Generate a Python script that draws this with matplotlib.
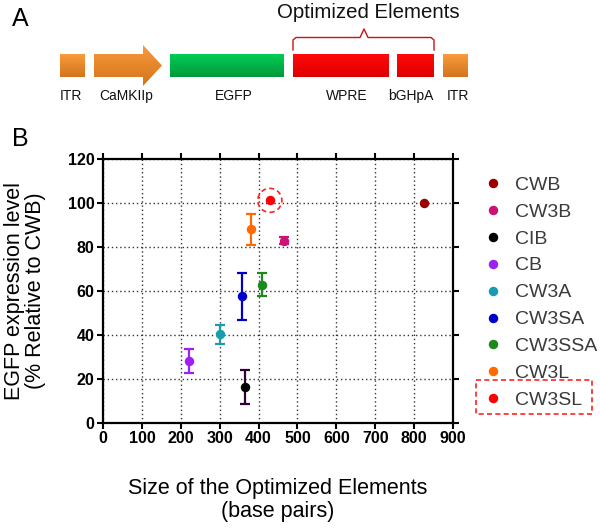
import matplotlib
matplotlib.use("Agg")
import matplotlib.pyplot as plt
import numpy as np
from matplotlib.patches import Rectangle, Polygon, Ellipse
from matplotlib.lines import Line2D

plt.rcParams['font.family'] = ['Liberation Sans', 'DejaVu Sans']

# ---------------- data ----------------
constructs = ["CWB", "CW3B", "CIB", "CB", "CW3A", "CW3SA", "CW3SSA", "CW3L", "CW3SL"]
size_bp = [826, 466, 365, 222, 301, 357, 408, 380, 429]
expression = [100.0, 82.8, 16.4, 28.2, 40.3, 57.6, 62.9, 88.1, 101.2]
expression_err = [0.0, 1.6, 7.8, 5.6, 4.3, 10.8, 5.3, 7.0, 0.0]
colors = ["#990000", "#CC1177", "#000000", "#A020F0", "#1A9CB0", "#0000CC", "#1A8A1A", "#FF6A00", "#FF0000"]
err_colors = ["#990000", "#CC1177", "#330033", "#A020F0", "#1A9CB0", "#0000CC", "#1A8A1A", "#FF6A00", "#FF0000"]
highlight = "CW3SL"

x_ticks = [0, 100, 200, 300, 400, 500, 600, 700, 800, 900]
y_ticks = [0, 20, 40, 60, 80, 100, 120]

# construct diagram elements (panel A)
elements = ["ITR", "CaMKIIp", "EGFP", "WPRE", "bGHpA", "ITR"]

W, H = 600, 529
fig = plt.figure(figsize=(W / 100, H / 100), dpi=100)

# overlay axes in pixel coordinates for panel A and annotations
ov = fig.add_axes([0, 0, 1, 1], zorder=0)
ov.set_xlim(0, W)
ov.set_ylim(H, 0)
ov.axis('off')


def grad_img(top, bottom, n=64):
    t = np.linspace(0, 1, n)[:, None]
    top = np.array(matplotlib.colors.to_rgb(top))
    bottom = np.array(matplotlib.colors.to_rgb(bottom))
    return (top[None, :] * (1 - t) + bottom[None, :] * t)[:, None, :]


def grad_patch(patch, x0, x1, y0, y1, top, bottom):
    ov.add_patch(patch)
    im = ov.imshow(grad_img(top, bottom), extent=(x0, x1, y1, y0), origin='upper',
                   aspect='auto', zorder=2)
    im.set_clip_path(patch)


orange = ("#F89B3C", "#D4731C")
green = ("#00CC55", "#009A3A")
red = ("#FF0A0A", "#DD0000")

boxes = [
    (60, 85, orange),   # ITR
    None,               # CaMKIIp arrow
    (170, 284, green),  # EGFP
    (293, 389, red),    # WPRE
    (397, 434, red),    # bGHpA
    (443, 468, orange), # ITR
]
by0, by1 = 54, 77
for b in boxes:
    if b is None:
        continue
    x0, x1, c = b
    p = Rectangle((x0, by0), x1 - x0, by1 - by0, facecolor='none', edgecolor='none')
    grad_patch(p, x0, x1, by0, by1, c[0], c[1])

arrow = Polygon([(94, 54), (143, 54), (143, 45), (162, 65.5), (143, 86), (143, 77), (94, 77)],
                closed=True, facecolor='none', edgecolor='none')
grad_patch(arrow, 94, 162, 45, 86, orange[0], orange[1])

label_x = [71, 126, 234, 347, 411, 458]
for name, lx in zip(elements, label_x):
    ov.text(lx, 96, name, ha='center', va='center', fontsize=10, color='#111111')

# bracket
bx = [293, 293, 296, 360, 364, 368, 431, 434, 434]
byy = [50, 40, 37.5, 37.5, 29, 37.5, 37.5, 40, 50]
ov.plot(bx, byy, color='#CC1111', lw=1.0, solid_joinstyle='round')
ov.text(368, 12, "Optimized Elements", ha='center', va='center', fontsize=14.7, color='#111111')

ov.text(20, 19, "A", ha='center', va='center', fontsize=18)
ov.text(20, 139, "B", ha='center', va='center', fontsize=18)

# ---------------- panel B ----------------
ax = fig.add_axes([103 / W, (H - 423) / H, 350 / W, 264 / H], zorder=1)
ax.patch.set_alpha(0)
for name, xs, ys, ye, c, ec in zip(constructs, size_bp, expression, expression_err, colors, err_colors):
    ax.errorbar([xs], [ys], yerr=[ye] if ye > 0 else None, fmt='o', color=c, ecolor=ec,
                markersize=5.8, elinewidth=1.6, capsize=3.6, capthick=1.6, zorder=3)

ax.set_xlim(0, 900)
ax.set_ylim(0, 120)
ax.set_xticks(x_ticks)
ax.set_yticks(y_ticks)
ax.tick_params(direction='out', length=4, width=1.5, labelsize=11.5, pad=2,
               top=True, right=True)
for lab in ax.get_xticklabels() + ax.get_yticklabels():
    lab.set_fontweight('bold')
for s in ax.spines.values():
    s.set_linewidth(1.6)
ax.grid(True, linestyle=(0, (1, 2)), color='#333333', linewidth=1.0)

# dashed circle around highlighted point
hi = constructs.index(highlight)
ax.add_patch(Ellipse((size_bp[hi], expression[hi]), width=24 / (350 / 900),
                     height=24 / (264 / 120), fill=False, edgecolor='#FF2222',
                     linestyle=(0, (3, 2)), linewidth=1.2, zorder=4))

ax.set_xlabel("Size of the Optimized Elements\n(base pairs)", fontsize=15.5, labelpad=23,
              linespacing=1.1)
ax.set_ylabel("EGFP expression level\n(% Relative to CWB)", fontsize=15.5, labelpad=16,
              linespacing=0.95)

handles = [Line2D([], [], marker='o', linestyle='none', color=c, markersize=5.8) for c in colors]
leg = fig.legend(handles, constructs, loc='upper left', bbox_to_anchor=(485 / W, 1 - 176 / H),
                 frameon=False, fontsize=14, handlelength=0.8, handletextpad=0.73,
                 labelspacing=0.48, borderpad=0, borderaxespad=0)
for t in leg.get_texts():
    t.set_color('#3A3A3A')

ov.add_patch(Rectangle((476, 380), 116, 34, fill=False, edgecolor='#FF2222',
                       linestyle=(0, (3, 2)), linewidth=1.2))

fig.savefig("out.png", dpi=100)
